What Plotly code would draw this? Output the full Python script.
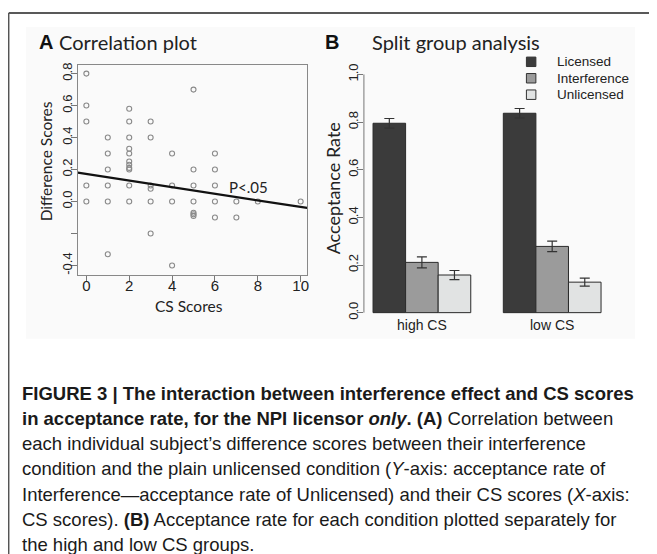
import plotly.graph_objects as go

W, H = 657, 554

# ---------------- Data ----------------
# Panel A: correlation plot (CS score, difference score)
cs_scores = [0, 0, 0, 0, 0,
             1, 1, 1, 1, 1, 1,
             2, 2, 2, 2, 2, 2, 2, 2, 2, 2, 2,
             3, 3, 3, 3, 3, 3,
             4, 4, 4, 4,
             5, 5, 5, 5, 5, 5, 5,
             6, 6, 6, 6, 6,
             7, 7,
             8,
             10]
diff_scores = [0.8, 0.6, 0.5, 0.1, 0.0,
               0.4, 0.3, 0.2, 0.1, 0.0, -0.33,
               0.58, 0.5, 0.4, 0.33, 0.3, 0.25, 0.23, 0.21, 0.2, 0.1, 0.0,
               0.5, 0.4, 0.1, 0.08, 0.0, -0.2,
               0.3, 0.1, 0.0, -0.4,
               0.7, 0.2, 0.1, 0.0, -0.07, -0.08, -0.09,
               0.3, 0.2, 0.1, 0.0, -0.1,
               0.0, -0.1,
               0.0,
               0.0]
fit_intercept = 0.172
fit_slope = -0.0206

scatter_xticks = [0, 2, 4, 6, 8, 10]
scatter_yticks = [-0.4, -0.2, 0.0, 0.2, 0.4, 0.6, 0.8]
scatter_yticklabels = ["-0.4", "", "0.0", "0.2", "0.4", "0.6", "0.8"]

# Panel B: split group analysis
groups = ["high CS", "low CS"]
conditions = ["Licensed", "Interference", "Unlicensed"]
rates = {
    "Licensed": [0.795, 0.837],
    "Interference": [0.211, 0.278],
    "Unlicensed": [0.158, 0.128],
}
errors = {
    "Licensed": [0.020, 0.020],
    "Interference": [0.023, 0.022],
    "Unlicensed": [0.019, 0.017],
}
bar_yticks = [0.0, 0.2, 0.4, 0.6, 0.8, 1.0]
bar_yticklabels = ["0.0", "0.2", "0.4", "0.6", "0.8", "1.0"]

colors = {"Licensed": "#3b3b3b", "Interference": "#9b9b9b", "Unlicensed": "#e1e3e3"}

caption_lines = [
    "<b>FIGURE 3 | The interaction between interference effect and CS scores</b>",
    "<b>in acceptance rate, for the NPI licensor <i>only</i>. (A)</b> Correlation between",
    "each individual subject\u2019s difference scores between their interference",
    "condition and the plain unlicensed condition (<i>Y</i>-axis: acceptance rate of",
    "Interference\u2014acceptance rate of Unlicensed) and their CS scores (<i>X</i>-axis:",
    "CS scores). <b>(B)</b> Acceptance rate for each condition plotted separately for",
    "the high and low CS groups.",
]

# ---------------- helpers ----------------
# the page body has an 8px default margin, so shift everything up/left by it
OFF = 8

def fx(px):
    return (px - OFF) / W

def fy(py):
    return 1 - (py - OFF) / H

SANS = "Liberation Sans, Arial, sans-serif"
TICKFONT = dict(family=SANS, size=13, color="#222")
TITLEFONT = "Lato, Open Sans, sans-serif"

sx_range = [-0.4, 10.3]
sy_range = [-0.46, 0.855]

fig = go.Figure()

# Panel A traces
fig.add_trace(go.Scatter(
    x=cs_scores, y=diff_scores, mode="markers",
    marker=dict(symbol="circle-open", size=5, color="#8a8a8a", line=dict(width=1.1)),
    xaxis="x", yaxis="y", showlegend=False, hoverinfo="x+y"))
line_x = [sx_range[0], sx_range[1]]
line_y = [fit_intercept + fit_slope * v for v in line_x]
fig.add_trace(go.Scatter(
    x=line_x, y=line_y, mode="lines", line=dict(color="#111", width=2.2),
    xaxis="x", yaxis="y", showlegend=False))

# Panel B traces
for cond in conditions:
    fig.add_trace(go.Bar(
        x=groups, y=rates[cond], name=cond,
        marker=dict(color=colors[cond], line=dict(color="#2a2a2a", width=1)),
        error_y=dict(type="data", array=errors[cond], color="#333", thickness=1.2, width=5),
        xaxis="x2", yaxis="y2", showlegend=False))

fig.update_layout(
    width=W, height=H,
    margin=dict(l=0, r=0, t=0, b=0),
    paper_bgcolor="white", plot_bgcolor="rgba(0,0,0,0)",
    barmode="group", bargap=0.25, bargroupgap=0,
    xaxis=dict(domain=[fx(78), fx(308)], range=sx_range,
               tickvals=scatter_xticks, ticks="outside", ticklen=6, tickcolor="#777",
               showline=True, linecolor="#888", linewidth=1, mirror=True,
               showgrid=False, zeroline=False, ticklabelstandoff=-9,
               tickfont=dict(family=SANS, size=15, color="#222")),
    yaxis=dict(domain=[fy(274), fy(63)], range=sy_range,
               tickvals=scatter_yticks, ticktext=scatter_yticklabels, tickangle=-90,
               ticks="outside", ticklen=6, tickcolor="#777",
               showline=True, linecolor="#888", linewidth=1, mirror=True,
               showgrid=False, zeroline=False, ticklabelstandoff=-6, tickfont=TICKFONT),
    xaxis2=dict(domain=[fx(365), fx(612)], range=[-0.445, 1.445], type="category",
                showline=False, ticks="", showgrid=False, zeroline=False, ticklabelstandoff=-7,
                tickfont=dict(family=SANS, size=14, color="#222"), anchor="y2"),
    yaxis2=dict(domain=[fy(321.3), fy(63.1)], range=[-0.04, 1.04], anchor="x2",
                tickvals=bar_yticks, ticktext=bar_yticklabels, tickangle=-90,
                ticks="outside", ticklen=6, tickcolor="#777", ticklabelstandoff=-6,
                showline=False, showgrid=False, zeroline=False, tickfont=TICKFONT),
)

shapes = [
    # light panel behind the figure
    dict(type="rect", xref="paper", yref="paper", x0=fx(26), x1=fx(637), y0=fy(338), y1=fy(25),
         fillcolor="#fafafa", line=dict(width=0), layer="below"),
    # frame lines
    dict(type="line", xref="paper", yref="paper", x0=fx(8.7), x1=1, y0=fy(11), y1=fy(11),
         line=dict(color="#222", width=1.5)),
    dict(type="line", xref="paper", yref="paper", x0=fx(8.7), x1=fx(8.7), y0=fy(11), y1=0,
         line=dict(color="#555", width=1.5)),
    # bar y-axis line only spans 0..1
    dict(type="line", xref="x2 domain", yref="y2", x0=0, x1=0, y0=bar_yticks[0], y1=bar_yticks[-1],
         line=dict(color="#777", width=1)),
]

# manual legend
legend_y = [60, 76.5, 93]
for cond, ly in zip(conditions, legend_y):
    shapes.append(dict(type="rect", xref="paper", yref="paper",
                       x0=fx(528), x1=fx(537.5), y0=fy(ly + 4.75), y1=fy(ly - 4.75),
                       fillcolor=colors[cond], line=dict(color="#333", width=1)))


def ann(text, x, y, size, family, xanchor="center", angle=0, ref="paper", color="#222"):
    return dict(text=text, x=x, y=y, xref=ref, yref=ref if ref == "paper" else "y",
                xanchor=xanchor, yanchor="middle", textangle=angle, showarrow=False,
                font=dict(family=family, size=size, color=color))


annotations = [
    ann("<b>A</b>", fx(37), fy(40), 20, SANS, xanchor="left", color="#111"),
    ann("Correlation plot", fx(57), fy(40), 20, TITLEFONT, xanchor="left"),
    ann("<b>B</b>", fx(324), fy(40), 20, SANS, xanchor="left", color="#111"),
    ann("Split group analysis", fx(371), fy(40), 20, TITLEFONT, xanchor="left"),
    ann("Difference Scores", fx(47), fy(160), 15.5, TITLEFONT, angle=-90),
    ann("CS Scores", fx(190), fy(305), 15.5, TITLEFONT),
    ann("Acceptance Rate", fx(334), fy(187), 18, TITLEFONT, angle=-90),
    dict(text="P<.05", x=6.55, y=0.09, xref="x", yref="y", xanchor="left", yanchor="middle",
         showarrow=False, font=dict(family=TITLEFONT, size=15, color="#222")),
]
for cond, ly in zip(conditions, legend_y):
    annotations.append(ann(cond, fx(557), fy(ly), 13.5, SANS, xanchor="left"))

cap_y0, cap_dy = 393, 25.2
for i, line in enumerate(caption_lines):
    annotations.append(ann(line, fx(20), fy(cap_y0 + i * cap_dy), 18.5, SANS, xanchor="left", color="#1a1a1a"))

fig.update_layout(shapes=shapes, annotations=annotations)
fig.write_html("out.html")
